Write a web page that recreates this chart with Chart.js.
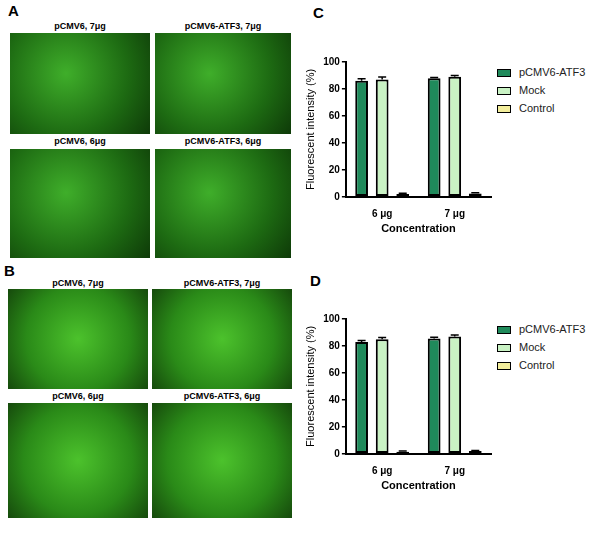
<!DOCTYPE html>
<html><head><meta charset="utf-8">
<script src="https://cdn.jsdelivr.net/npm/chart.js@4"></script>
<style>
body{margin:0;background:#fff;font-family:"Liberation Sans",Arial,sans-serif;}
#wrap{position:relative;width:590px;height:540px;}
.img{position:absolute;background:radial-gradient(circle at 40% 40%,#3fae2a,#1d6a12 60%,#0e3a08);}
.img.b{background:radial-gradient(circle at 50% 50%,#4cc22c,#2a8a18 60%,#164a0c);}
.cap{position:absolute;font-size:9px;font-weight:bold;text-align:center;}
.lab{position:absolute;font-size:15px;font-weight:bold;}
canvas{position:absolute;}
.leg{position:absolute;font-size:11px;color:#222;line-height:12px;}
.leg span{display:inline-block;width:12px;height:6px;border:1.5px solid #000;margin-right:8px;vertical-align:middle;}
</style></head><body><div id="wrap">
<div class="lab" style="left:8px;top:2px">A</div>
<div class="lab" style="left:4px;top:262px">B</div>
<div class="lab" style="left:313px;top:4px">C</div>
<div class="lab" style="left:310px;top:272px">D</div>
<div class="cap" style="left:10px;top:21px;width:140px">pCMV6, 7μg</div>
<div class="cap" style="left:155px;top:21px;width:136px">pCMV6-ATF3, 7μg</div>
<div class="cap" style="left:10px;top:136px;width:140px">pCMV6, 6μg</div>
<div class="cap" style="left:155px;top:136px;width:136px">pCMV6-ATF3, 6μg</div>
<div class="img" style="left:10px;top:33px;width:140px;height:101px"></div>
<div class="img" style="left:155px;top:33px;width:136px;height:101px"></div>
<div class="img" style="left:10px;top:149px;width:140px;height:109px"></div>
<div class="img" style="left:155px;top:149px;width:136px;height:109px"></div>
<div class="cap" style="left:8px;top:278px;width:140px">pCMV6, 7μg</div>
<div class="cap" style="left:152px;top:278px;width:140px">pCMV6-ATF3, 7μg</div>
<div class="cap" style="left:8px;top:391px;width:140px">pCMV6, 6μg</div>
<div class="cap" style="left:152px;top:391px;width:140px">pCMV6-ATF3, 6μg</div>
<div class="img b" style="left:8px;top:289px;width:140px;height:100px"></div>
<div class="img b" style="left:152px;top:289px;width:140px;height:100px"></div>
<div class="img b" style="left:8px;top:403px;width:140px;height:115px"></div>
<div class="img b" style="left:152px;top:403px;width:140px;height:115px"></div>
<canvas id="c1" width="195" height="182" style="left:300px;top:54px"></canvas>
<canvas id="c2" width="195" height="182" style="left:300px;top:311px"></canvas>
<div id="l1" class="leg" style="left:497px;top:66px"></div>
<div id="l2" class="leg" style="left:497px;top:323px"></div>
</div>
<script>
const categories=["6 μg","7 μg"];
const seriesNames=["pCMV6-ATF3","Mock","Control"];
const colors=["#1f8a5b","#c9f2c4","#f3ee9c"];
const cAtf3=[86,88], cMock=[87,89], cCtrl=[2,2.5];
const cAtf3Err=[1.5,0.5], cMockErr=[1.8,1], cCtrlErr=[0.7,0.5];
const dAtf3=[83,85.5], dMock=[85,87], dCtrl=[1.5,2];
const dAtf3Err=[1,1], dMockErr=[1.2,1.2], dCtrlErr=[0.5,0.5];
const yTicks=[0,20,40,60,80,100];

['l1','l2'].forEach(id=>{document.getElementById(id).innerHTML=seriesNames.map((n,i)=>`<div style="margin-bottom:6px"><span style="background:${colors[i]}"></span>${n}</div>`).join('');});

const errPlugin={id:'err',afterDatasetsDraw(ch){const ctx=ch.ctx;ctx.save();ctx.strokeStyle='#000';ctx.lineWidth=1.5;
ch.data.datasets.forEach((ds,i)=>{const m=ch.getDatasetMeta(i);m.data.forEach((b,j)=>{const y=ch.scales.y.getPixelForValue(ds.data[j]+ds.err[j]);
ctx.beginPath();ctx.moveTo(b.x,b.y);ctx.lineTo(b.x,y);ctx.moveTo(b.x-4,y);ctx.lineTo(b.x+4,y);ctx.stroke();});});ctx.restore();}};

function make(id,vals,errs){
new Chart(document.getElementById(id),{type:'bar',
data:{labels:categories,datasets:vals.map((v,i)=>({label:seriesNames[i],data:v,err:errs[i],backgroundColor:colors[i],borderColor:'#000',borderWidth:2,borderSkipped:false}))},
options:{responsive:false,animation:false,layout:{padding:{top:6,right:4}},
plugins:{legend:{display:false},tooltip:{enabled:false}},
datasets:{bar:{categoryPercentage:0.85,barPercentage:0.62}},
scales:{x:{grid:{display:false},border:{color:'#000',width:2},ticks:{color:'#000',font:{size:10,weight:'bold'}},title:{display:true,text:'Concentration',color:'#000',font:{size:11,weight:'bold'},padding:0}},
y:{min:0,max:100,afterBuildTicks:a=>{a.ticks=yTicks.map(v=>({value:v}));},grid:{display:true,drawOnChartArea:false,drawTicks:true,tickLength:4,color:'#000',lineWidth:1.5},border:{color:'#000',width:2},ticks:{color:'#000',padding:2,font:{size:10,weight:'bold'}},title:{display:true,text:'Fluorescent intensity (%)',color:'#000',font:{size:11}}}}},
plugins:[errPlugin]});}
make('c1',[cAtf3,cMock,cCtrl],[cAtf3Err,cMockErr,cCtrlErr]);
make('c2',[dAtf3,dMock,dCtrl],[dAtf3Err,dMockErr,dCtrlErr]);
</script></body></html>
